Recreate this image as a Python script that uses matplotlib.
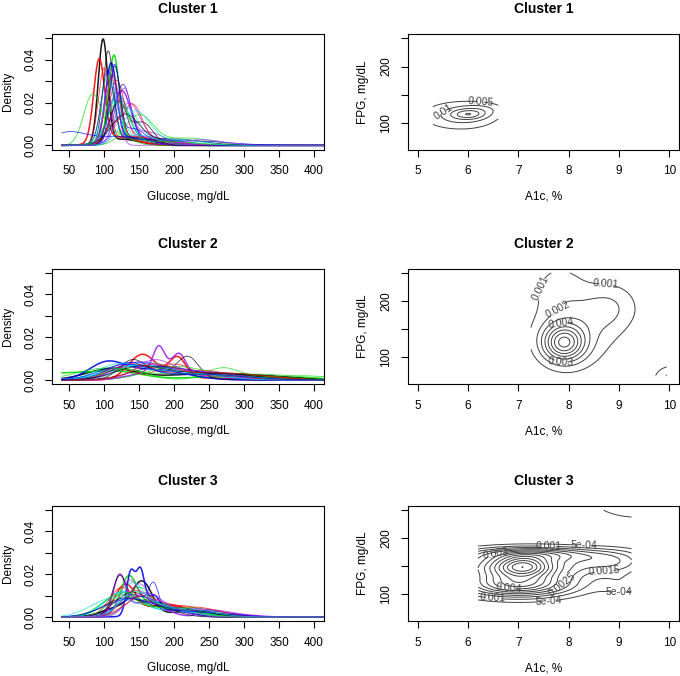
import numpy as np
import matplotlib
matplotlib.use('Agg')
import matplotlib.pyplot as plt

plt.rcParams['font.family'] = ['Liberation Sans', 'DejaVu Sans']

TITLES = ['Cluster 1', 'Cluster 2', 'Cluster 3']
COLORS = ['black', 'red', '#00dd00', 'blue', '#00e0e0', '#a020f0']

# glucose density of each patient, as gaussian parts (mean, sd, weight)
CL1_CURVES = [
    [(98.5, 6.8, 0.82), (125, 25, 0.18)],
    [(93, 7.8, 0.75), (120, 25, 0.25)],
    [(114, 7.5, 0.75), (140, 30, 0.25)],
    [(110, 8, 0.72), (135, 30, 0.28)],
    [(120, 14, 0.8), (160, 30, 0.2)],
    [(125, 13, 0.8), (165, 30, 0.2)],
    [(106, 7.5, 0.8), (135, 25, 0.2)],
    [(118, 11, 0.8), (150, 25, 0.2)],
    [(83, 12.5, 0.7), (115, 20, 0.3)],
    [(127, 11, 0.75), (170, 35, 0.25)],
    [(130, 18, 0.8), (190, 30, 0.2)],
    [(135, 16, 0.75), (180, 35, 0.25)],
    [(115, 8.5, 0.75), (150, 30, 0.25)],
    [(100, 8, 0.7), (145, 30, 0.3)],
    [(105, 9, 0.7), (150, 35, 0.3)],
    [(105, 9, 0.75), (140, 30, 0.25)],
    [(112, 14, 0.7), (170, 35, 0.3)],
    [(128, 10, 0.6), (160, 25, 0.4)],
    [(120, 12, 0.6), (155, 15, 0.4)],
    [(140, 14, 0.65), (110, 10, 0.2), (180, 30, 0.15)],
    [(150, 20, 0.7), (220, 35, 0.3)],
    [(48, 25, 0.35), (120, 40, 0.4), (230, 50, 0.25)],
    [(110, 10, 0.7), (150, 25, 0.3)],
    [(118, 12, 0.7), (160, 30, 0.3)],
    [(130, 20, 0.7), (200, 40, 0.3)],
    [(112, 10, 0.8), (150, 20, 0.2)],
    [(120, 16, 0.8), (190, 40, 0.2)],
    [(115, 7, 0.6), (140, 20, 0.4)],
    [(145, 20, 0.8), (210, 30, 0.2)],
    [(110, 9, 0.8), (240, 30, 0.2)],
]
CL2_CURVES = [
    [(110, 35, 0.45), (260, 70, 0.55)],
    [(155, 20, 0.6), (205, 12, 0.3), (250, 40, 0.1)],
    [(40, 45, 0.35), (120, 35, 0.3), (300, 80, 0.35)],
    [(103, 25, 0.45), (170, 45, 0.55)],
    [(140, 40, 0.6), (220, 50, 0.4)],
    [(178, 8, 0.2), (208, 9, 0.17), (190, 22, 0.3), (150, 25, 0.13), (260, 40, 0.2)],
    [(140, 18, 0.35), (220, 15, 0.35), (180, 40, 0.3)],
    [(120, 20, 0.3), (200, 25, 0.45), (300, 50, 0.25)],
    [(130, 30, 0.4), (270, 25, 0.35), (380, 50, 0.25)],
    [(135, 30, 0.6), (250, 50, 0.4)],
    [(160, 35, 0.7), (260, 50, 0.3)],
    [(150, 30, 0.6), (230, 40, 0.4)],
    [(180, 40, 0.6), (300, 60, 0.4)],
    [(140, 30, 0.55), (240, 40, 0.45)],
    [(200, 40, 0.6), (320, 60, 0.4)],
    [(140, 28, 0.5), (210, 40, 0.5)],
    [(120, 30, 0.5), (200, 50, 0.5)],
    [(170, 25, 0.5), (240, 50, 0.5)],
    [(150, 35, 0.5), (250, 60, 0.5)],
    [(170, 30, 0.5), (270, 60, 0.5)],
    [(100, 40, 0.5), (220, 70, 0.5)],
    [(130, 35, 0.6), (240, 60, 0.4)],
]
CL3_CURVES = [
    [(155, 14, 0.5), (125, 25, 0.3), (220, 30, 0.2)],
    [(130, 15, 0.55), (190, 30, 0.45)],
    [(135, 12, 0.5), (175, 30, 0.5)],
    [(138, 6, 0.3), (152, 6, 0.3), (171, 8, 0.15), (190, 30, 0.25)],
    [(125, 25, 0.7), (200, 40, 0.3)],
    [(122, 9, 0.4), (160, 25, 0.45), (245, 10, 0.05), (280, 30, 0.1)],
    [(122, 10, 0.4), (160, 30, 0.6)],
    [(145, 20, 0.6), (210, 30, 0.4)],
    [(150, 18, 0.6), (220, 35, 0.4)],
    [(171, 7, 0.2), (140, 20, 0.5), (210, 40, 0.3)],
    [(110, 30, 0.6), (180, 40, 0.4)],
    [(150, 16, 0.6), (230, 40, 0.4)],
    [(140, 25, 0.7), (220, 40, 0.3)],
    [(125, 18, 0.6), (190, 30, 0.4)],
    [(130, 22, 0.6), (200, 35, 0.4)],
    [(150, 30, 0.7), (240, 40, 0.3)],
    [(140, 15, 0.5), (180, 35, 0.5)],
    [(160, 25, 0.7), (250, 35, 0.3)],
    [(130, 30, 0.65), (210, 35, 0.35)],
    [(155, 25, 0.6), (230, 35, 0.4)],
    [(120, 25, 0.6), (190, 40, 0.4)],
    [(135, 35, 0.7), (220, 50, 0.3)],
    [(145, 22, 0.6), (210, 40, 0.4)],
    [(135, 12, 0.4), (170, 30, 0.6)],
]

# A1c / FPG density parts (A1c mean, FPG mean, A1c sd, FPG sd, weight)
CL1_BLOBS = [(6.0, 115, 0.22, 6, 0.1), (5.85, 113, 0.55, 18, 0.75), (6.3, 124, 0.3, 8, 0.08)]
CL2_BLOBS = [(7.9, 126, 0.28, 22, 0.26), (8.1, 150, 0.6, 50, 0.4),
             (8.85, 190, 0.4, 30, 0.12), (7.8, 230, 0.35, 30, 0.07),
             (10.05, 60, 0.25, 18, 0.07)]
CL3_BLOBS = [(7.1, 150, 0.35, 12, 0.07), (7.0, 150, 0.9, 16, 0.35),
             (7.4, 172, 0.9, 9, 0.12), (7.0, 117, 0.75, 15, 0.3),
             (8.9, 158, 0.5, 14, 0.07), (9.1, 120, 0.35, 15, 0.025),
             (9.4, 265, 0.6, 20, 0.1)]
# range of the estimate grid (A1c lo, hi, FPG lo, hi)
CL1_LIMS = (5.3, 6.6, 85, 145)
CL2_LIMS = (7.25, 9.95, 68, 250)
CL3_LIMS = (6.2, 9.25, 78, 250)
CL1_LEVELS = [0.005, 0.01, 0.015, 0.02, 0.025, 0.03, 0.035, 0.04]
CL2_LEVELS = [0.001, 0.002, 0.003, 0.004, 0.005, 0.006, 0.007, 0.008, 0.009, 0.01]
CL3_LEVELS = [0.0005, 0.001, 0.0015, 0.002, 0.0025, 0.003, 0.0035, 0.004,
              0.0045, 0.005, 0.0055, 0.006, 0.0065, 0.007, 0.0075, 0.008]
# where the contour labels sit (A1c, FPG)
CL1_LABEL_AT = [(5.5, 121), (6.25, 134)]
CL2_LABEL_AT = [(7.45, 222), (8.75, 238), (7.75, 192), (7.85, 158), (7.85, 92)]
CL3_LABEL_AT = [(7.6, 187), (8.3, 193), (6.55, 170), (6.8, 112), (7.85, 121),
                (8.7, 145), (9.0, 112), (6.5, 92), (7.6, 86)]

curves = [CL1_CURVES, CL2_CURVES, CL3_CURVES]
blobs = [CL1_BLOBS, CL2_BLOBS, CL3_BLOBS]
lims = [CL1_LIMS, CL2_LIMS, CL3_LIMS]
levels = [CL1_LEVELS, CL2_LEVELS, CL3_LEVELS]
label_at = [CL1_LABEL_AT, CL2_LABEL_AT, CL3_LABEL_AT]


def dens1(x, parts):
    y = np.zeros_like(x)
    for m, s, w in parts:
        y += w * np.exp(-0.5 * ((x - m) / s) ** 2) / (s * np.sqrt(2 * np.pi))
    return y


def dens2(X, Y, parts):
    Z = np.zeros_like(X)
    for mx, my, sx, sy, w in parts:
        Z += w * np.exp(-0.5 * (((X - mx) / sx) ** 2 + ((Y - my) / sy) ** 2)) / (2 * np.pi * sx * sy)
    return Z


def fmt(v):
    if v < 0.001:
        return '%.0e' % v
    return ('%.4f' % v).rstrip('0')


def r_style(ax):
    for s in ax.spines.values():
        s.set_linewidth(0.8)
    ax.tick_params(direction='out', length=5, width=0.8, labelsize=8.5, pad=6)
    for t in ax.get_yticklabels():
        t.set_rotation(90)
        t.set_va('center')


fig = plt.figure(figsize=(6.8, 6.76), dpi=100)
bottoms = [0.7786, 0.4315, 0.0809]
gx = np.linspace(40, 420, 600)

for r in range(3):
    ax = fig.add_axes([0.0765, bottoms[r], 0.4, 0.171])
    for i, parts in enumerate(curves[r]):
        c = COLORS[i % len(COLORS)]
        if i < 6:
            ax.plot(gx, dens1(gx, parts), color=c, lw=1.1, alpha=0.9)
        else:
            ax.plot(gx, dens1(gx, parts), color=c, lw=0.6, alpha=0.75)
    ax.set_xlim(25.6, 414.4)
    ax.set_ylim(-0.002, 0.052)
    ax.set_xticks([50, 100, 150, 200, 250, 300, 350, 400])
    ax.set_yticks([0, 0.01, 0.02, 0.03, 0.04, 0.05])
    ax.set_yticklabels(['0.00', '', '0.02', '', '0.04', ''])
    ax.set_xlabel('Glucose, mg/dL', fontsize=8.5, labelpad=10)
    ax.set_ylabel('Density', fontsize=8.5, labelpad=8)
    ax.set_title(TITLES[r], fontsize=10, fontweight='bold', pad=15)
    r_style(ax)

    ax2 = fig.add_axes([0.5996, bottoms[r], 0.3994, 0.171])
    x0, x1, y0, y1 = lims[r]
    X, Y = np.meshgrid(np.linspace(x0, x1, 150), np.linspace(y0, y1, 150))
    Z = dens2(X, Y, blobs[r])
    cs = ax2.contour(X, Y, Z, levels=levels[r], colors='#404040', linewidths=0.7)
    ax2.clabel(cs, fmt=fmt, fontsize=7.5, inline=True, inline_spacing=1,
               manual=label_at[r])
    ax2.set_xlim(4.8, 10.2)
    ax2.set_ylim(52.4, 257.6)
    ax2.set_xticks([5, 6, 7, 8, 9, 10])
    ax2.set_yticks([100, 150, 200, 250])
    ax2.set_yticklabels(['100', '', '200', ''])
    ax2.set_xlabel('A1c, %', fontsize=8.5, labelpad=10)
    ax2.set_ylabel('FPG, mg/dL', fontsize=8.5, labelpad=8)
    ax2.set_title(TITLES[r], fontsize=10, fontweight='bold', pad=15)
    r_style(ax2)

fig.savefig('out.png', dpi=100)
